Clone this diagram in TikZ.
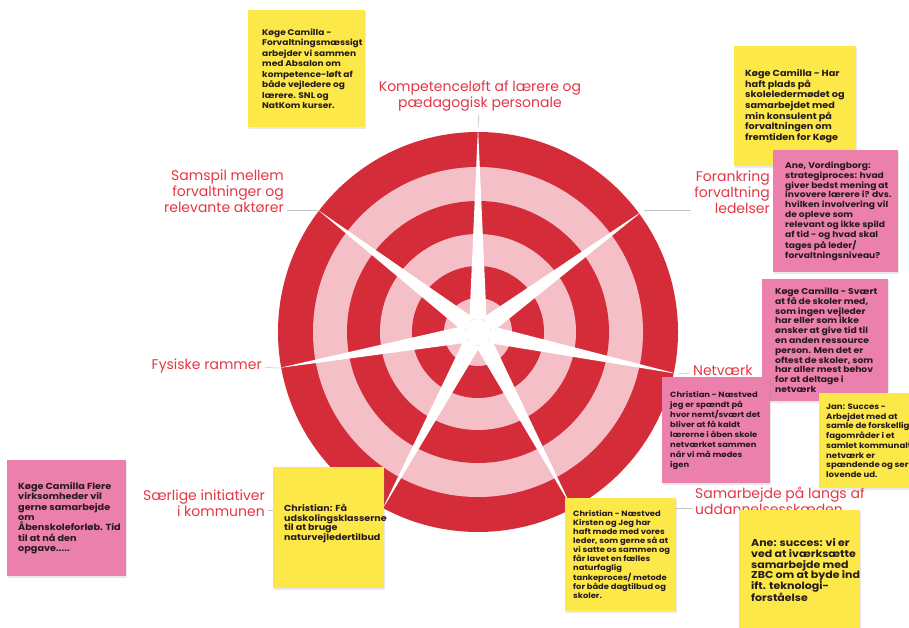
\documentclass[tikz,border=0pt]{standalone}
\usepackage{fontspec}
\setmainfont{Poppins}
\newfontfamily\stickyfont{Poppins}[FakeStretch=1.1]
\usetikzlibrary{positioning,shadows,calc}
\definecolor{ringred}{RGB}{212,44,57}
\definecolor{ringpink}{RGB}{245,191,199}
\definecolor{lblred}{RGB}{228,55,69}
\definecolor{noteyellow}{RGB}{253,232,74}
\definecolor{notepink}{RGB}{236,128,172}
\definecolor{inkdark}{RGB}{38,26,28}
\definecolor{leadgray}{RGB}{195,195,195}

\newcommand{\notesize}[2]{\stickyfont\fontsize{#1}{#2}\selectfont\bfseries}

\tikzset{
  lbl/.style={text=lblred, font=\fontsize{14}{16}\selectfont, inner sep=3pt},
  lead/.style={draw=leadgray, line width=0.6pt},
  notebox/.style 2 args={rectangle, anchor=north west, inner sep=0pt,
    minimum width=#1, minimum height=#2,
    drop shadow={opacity=0.18, shadow xshift=0.6pt, shadow yshift=-1.4pt}},
  notetext/.style={align=left, inner sep=0pt, text=inkdark}
}

\begin{document}
\begin{tikzpicture}[x=1pt,y=-1pt]
  \useasboundingbox (0,0) rectangle (909,628);
  \clip (0,0) rectangle (909,628);
  \fill[white] (0,0) rectangle (909,628);

  % Centre and spike tips
  \coordinate (midt) at (478,332);
  \foreach \px/\py [count=\i] in {478/127, 644/210, 678/374, 572/508, 382/510, 279/368, 318/210}
    \coordinate (tip\i) at (\px,\py);

  % Labels round the target
  \node[lbl, align=center] (komp) at (480,96) {Kompetenceløft af lærere og\\pædagogisk personale};
  \node[lbl, align=right, anchor=east] (samspil) at (287,191) {Samspil mellem\\forvaltninger og\\relevante aktører};
  \node[lbl, anchor=east] (fysisk) at (265,366) {Fysiske rammer};
  \node[lbl, align=right, anchor=east] (saerlig) at (268,503) {Særlige initiativer\\i kommunen};
  \node[lbl, align=right, anchor=east] (forank) at (773,192) {Forankring\\forvaltning\\ledelser};
  \node[lbl, anchor=west] (netv) at (690,370) {Netværk};
  \node[lbl, align=left, anchor=west] (samarb) at (692,501) {Samarbejde på langs af\\uddannelsesskæden};

  % Leader lines
  \draw[lead] (komp) -- (tip1);
  \draw[lead] (samspil.east |- tip7) -- (tip7);
  \draw[lead] (fysisk) -- (tip6);
  \draw[lead] (saerlig.east |- tip5) -- (tip5);
  \draw[lead] (forank.west |- tip2) -- (tip2);
  \draw[lead] (netv) -- (tip3);
  \draw[lead] (samarb.west |- tip4) -- (tip4);

  % Rings
  \foreach \r/\c in {200/ringred, 165/ringpink, 131/ringred, 98/ringpink, 66/ringred, 34/ringpink}
    \fill[\c] (midt) circle (\r);

  % Star
  \foreach \i in {1,...,7}
    \fill[white] ($(midt)!15pt!35:(tip\i)$) -- (tip\i) -- ($(midt)!15pt!-35:(tip\i)$) -- cycle;
  \fill[white] (midt) circle (13);

  % Sticky notes
  \node[notebox={117}{117}, fill=noteyellow] (nAbsalon) at (248,10) {};
  \node[notetext, font=\notesize{8.2}{10.5}, right=14pt of nAbsalon.west] (tAbsalon)
    {Køge Camilla -\\Forvaltningsmæssigt\\arbejder vi sammen\\med Absalon om\\kompetence-løft af\\både vejledere og\\lærere. SNL og\\NatKom kurser.};

  \node[notebox={122}{120}, fill=noteyellow] (nSkoleleder) at (734,46) {};
  \node[notetext, font=\notesize{8.8}{10.6}, right=11pt of nSkoleleder.west] (tSkoleleder)
    {Køge Camilla - Har\\haft plads på\\skoleledermødet og\\samarbejdet med\\min konsulent på\\forvaltningen om\\fremtiden for Køge};

  \node[notebox={125}{122}, fill=notepink] (nStrategi) at (773,150) {};
  \node[notetext, font=\notesize{8.3}{9.8}, right=12pt of nStrategi.west] (tStrategi)
    {Ane, Vordingborg:\\strategiproces: hvad\\giver bedst mening at\\invovere lærere i? dvs.\\hvilken involvering vil\\de opleve som\\relevant og ikke spild\\af tid - og hvad skal\\tages på leder/\\forvaltningsniveau?};

  \node[notebox={126}{122}, fill=notepink] (nSvaert) at (762,279) {};
  \node[notetext, font=\notesize{8.4}{9.8}, right=13pt of nSvaert.west] (tSvaert)
    {Køge Camilla - Svært\\at få de skoler med,\\som ingen vejleder\\har eller som ikke\\ønsker at give tid til\\en anden ressource\\person. Men det er\\oftest de skoler, som\\har aller mest behov\\for at deltage i\\netværk};

  \node[notebox={108}{106}, fill=notepink] (nAabenSkole) at (662,377) {};
  \node[notetext, font=\notesize{7.6}{10}, right=8pt of nAabenSkole.west] (tAabenSkole)
    {Christian - Næstved\\jeg er spændt på\\hvor nemt/svært det\\bliver at få kaldt\\lærerne i åben skole\\netværket sammen\\når vi må mødes\\igen};

  \node[notebox={125}{95}, fill=noteyellow] (nJan) at (819,393) {};
  \node[notetext, font=\notesize{7.8}{9.7}, right=7pt of nJan.west] (tJan)
    {Jan: Succes -\\Arbejdet med at\\samle de forskellige\\fagområder i et\\samlet kommunalt\\netværk er\\spændende og ser\\lovende ud.};

  \node[notebox={119}{116}, fill=notepink] (nFlere) at (7,460) {};
  \node[notetext, font=\notesize{8.8}{10.3}, right=11pt of nFlere.west] (tFlere)
    {Køge Camilla Flere\\virksomheder vil\\gerne samarbejde\\om\\Åbenskoleforløb. Tid\\til at nå den\\opgave.....};

  \node[notebox={111}{121}, fill=noteyellow] (nUdskoling) at (273,467) {};
  \node[notetext, font=\notesize{8.7}{9.5}, right=11pt of nUdskoling.west, yshift=4pt] (tUdskoling)
    {Christian: Få\\udskolingsklasserne\\til at bruge\\naturvejledertilbud};

  \node[notebox={111}{113}, fill=noteyellow] (nKirsten) at (565,498) {};
  \node[notetext, font=\notesize{7.6}{8.9}, right=8pt of nKirsten.west] (tKirsten)
    {Christian - Næstved\\Kirsten og Jeg har\\haft møde med vores\\leder, som gerne så at\\vi satte os sammen og\\får lavet en fælles\\naturfaglig\\tankeproces/ metode\\for både dagtilbud og\\skoler.};

  \node[notebox={121}{120}, fill=noteyellow] (nZBC) at (739,510) {};
  \node[notetext, font=\notesize{10}{10.7}, right=12pt of nZBC.west] (tZBC)
    {Ane: succes: vi er\\ved at iværksætte\\samarbejde med\\ZBC om at byde ind\\ift. teknologi-\\forståelse};
\end{tikzpicture}
\end{document}
